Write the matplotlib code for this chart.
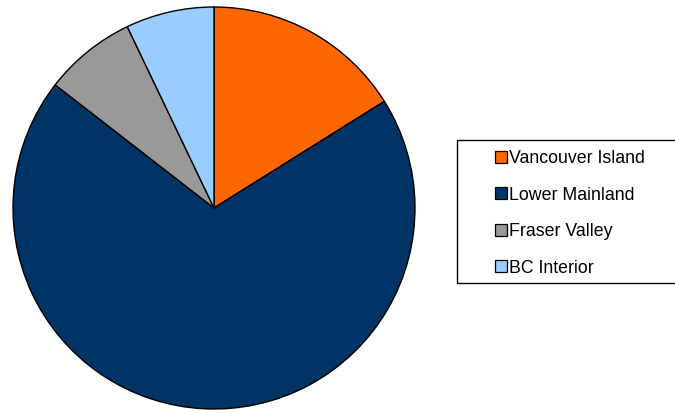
import matplotlib
matplotlib.use("Agg")
import matplotlib.pyplot as plt
from matplotlib.lines import Line2D
from matplotlib.patches import Rectangle

regions = ["Vancouver Island", "Lower Mainland", "Fraser Valley", "BC Interior"]
shares = [16.1, 69.4, 7.4, 7.1]
colors = ["#FF6600", "#003366", "#999999", "#99CCFF"]

plt.rcParams["font.family"] = ["Liberation Sans", "DejaVu Sans"]

W, H = 675, 413
fig = plt.figure(figsize=(W / 100, H / 100), dpi=100)
fig.patch.set_facecolor("white")

# pie axes: circle centre (214, 208), radius ~202 px
ax = fig.add_axes([12 / W, (H - 410) / H, 404 / W, 404 / H])
ax.pie(
    shares,
    colors=colors,
    startangle=90,
    counterclock=False,
    radius=1.0,
    wedgeprops=dict(edgecolor="black", linewidth=1.0),
)
ax.set_xlim(-1.005, 1.005)
ax.set_ylim(-1.005, 1.005)
ax.set_axis_off()

# legend frame
fig.patches.append(
    Rectangle(
        (457 / W, (H - 283) / H),
        230 / W,
        143 / H,
        transform=fig.transFigure,
        facecolor="none",
        edgecolor="black",
        linewidth=1.0,
    )
)

handles = [
    Line2D([], [], marker="s", linestyle="none", markersize=8,
           markerfacecolor=c, markeredgecolor="black", markeredgewidth=0.9)
    for c in colors
]
fig.legend(
    handles,
    regions,
    loc="upper left",
    bbox_to_anchor=(494 / W, (H - 150) / H),
    frameon=False,
    borderpad=0,
    borderaxespad=0,
    fontsize=12.8,
    handlelength=0.75,
    handletextpad=0.1,
    labelspacing=1.1,
)

fig.savefig("out.png", dpi=100)
